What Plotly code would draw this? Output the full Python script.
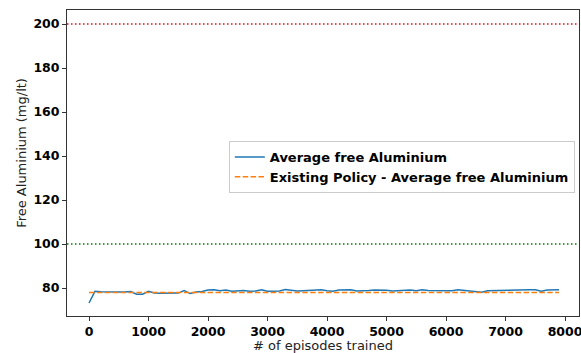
import plotly.graph_objects as go

episodes = list(range(0, 8000, 100))
avg_free_aluminium = [
    73.2, 78.5, 78.3, 78.2, 78.0, 78.2, 78.2, 78.4, 77.2, 77.2,
    78.5, 77.8, 77.6, 77.6, 77.6, 77.7, 78.9, 77.5, 78.2, 78.4,
    79.1, 79.2, 78.8, 79.1, 78.6, 78.7, 78.9, 78.6, 78.7, 79.2,
    78.6, 78.6, 78.7, 79.3, 78.9, 78.7, 78.8, 79.0, 78.9, 79.2,
    78.8, 78.6, 79.1, 79.0, 79.2, 78.7, 78.7, 78.9, 79.1, 79.2,
    79.0, 78.7, 78.8, 79.0, 79.1, 78.8, 79.2, 78.9, 78.8, 78.9,
    78.9, 78.8, 79.2, 78.9, 78.9, 78.5, 78.1, 78.8, 78.9, 78.9,
    79.0, 79.1, 79.2, 79.2, 79.2, 79.2, 78.6, 79.1, 79.2, 79.2,
]
existing_policy_level = 78.0
existing_policy = [existing_policy_level for _ in episodes]
upper_limit = 200
lower_limit = 100
x_ticks = [0, 1000, 2000, 3000, 4000, 5000, 6000, 7000, 8000]
y_ticks = [80, 100, 120, 140, 160, 180, 200]

fig = go.Figure()
fig.add_trace(go.Scatter(
    x=episodes, y=avg_free_aluminium, mode="lines",
    name="Average free Aluminium",
    line=dict(color="#1f77b4", width=1.5),
))
fig.add_trace(go.Scatter(
    x=episodes, y=existing_policy, mode="lines",
    name="Existing Policy - Average free Aluminium",
    line=dict(color="#ff7f0e", width=1.5, dash="5.5px,2.4px"),
))
fig.add_shape(type="line", xref="paper", x0=0, x1=1, yref="y",
              y0=upper_limit, y1=upper_limit,
              line=dict(color="red", width=1.5, dash="1.5px,2.5px"))
fig.add_shape(type="line", xref="paper", x0=0, x1=1, yref="y",
              y0=lower_limit, y1=lower_limit,
              line=dict(color="green", width=1.5, dash="1.5px,2.5px"))

axis_common = dict(
    showline=True, mirror=True, linecolor="#333333", linewidth=1,
    ticks="outside", ticklen=4, tickcolor="#333333", showgrid=False,
    zeroline=False, automargin=False, ticklabeloverflow="allow",
    tickfont=dict(family="DejaVu Sans", size=12.5, color="black", weight="bold"),
)
fig.update_xaxes(
    range=[-370, 8235], tickvals=x_ticks,
    title=dict(text="# of episodes trained", standoff=1,
               font=dict(family="DejaVu Sans", size=13, color="#222222")),
    **axis_common,
)
fig.update_yaxes(
    range=[67.3, 206.4], tickvals=y_ticks,
    **axis_common,
)
fig.add_annotation(
    text="Free Aluminium (mg/lt)", textangle=-90,
    xref="paper", yref="paper", x=-0.088, y=0.533,
    xanchor="center", yanchor="middle", showarrow=False,
    font=dict(family="DejaVu Sans", size=13, color="#222222"),
)
fig.update_layout(
    width=581, height=353,
    margin=dict(l=67, r=2, t=10, b=37, pad=0, autoexpand=False),
    plot_bgcolor="white", paper_bgcolor="white",
    font=dict(family="DejaVu Sans"),
    legend=dict(
        x=0.316, y=0.572, xanchor="left", yanchor="top",
        bgcolor="rgba(255,255,255,0.8)", bordercolor="#cccccc", borderwidth=1,
        font=dict(family="DejaVu Sans", size=13, color="black", weight="bold"),
        tracegroupgap=0,
    ),
)
fig.write_html(
    "out.html",
    config={"displayModeBar": False},
    post_script="document.body.style.margin='0px';document.body.style.padding='0px';document.body.style.overflow='hidden';",
)
